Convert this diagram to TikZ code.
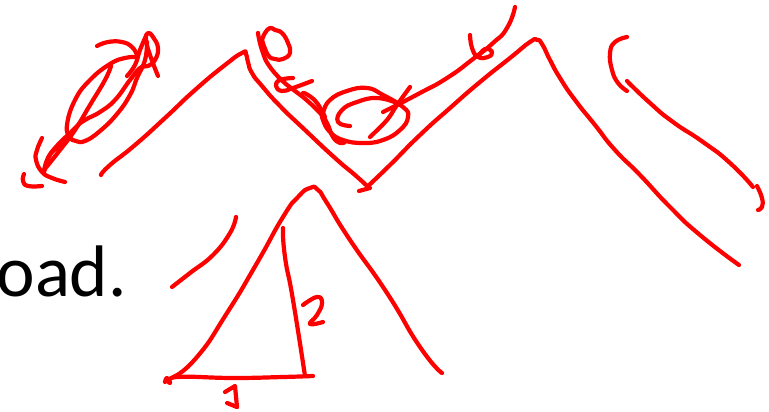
\documentclass[tikz,border=0pt]{standalone}
\usepackage{xcolor}
\usepackage{fontspec}
\setmainfont{Carlito}
\definecolor{SketchRed}{HTML}{FF0000}
\begin{document}
\begin{tikzpicture}[
  x=1pt,
  y=-1pt,
  ink/.style={draw=SketchRed, line width=4.2pt, line cap=round, line join=round}
]
\useasboundingbox (0,0) rectangle (769,412);
\fill[white] (0,0) rectangle (769,412);

\node[anchor=base east, inner sep=0pt, font=\fontsize{73pt}{73pt}\selectfont, text=black] (loadword) at (127,296) {oad.};

% scribble, left
\draw[ink] plot[smooth, tension=0.8] coordinates {(97,46) (108,42) (122,42) (132,47) (137,55)};
\draw[ink] plot[smooth, tension=0.8] coordinates {(137,57) (125,58) (110,64) (90,80) (75,100) (67,125) (70,137) (76,141) (85,141) (100,131) (117,114) (130,95) (137,78) (145,60) (147,42)};
\draw[ink] plot[smooth, tension=0.8] coordinates {(158,76) (150,55) (146,40) (148,33) (153,37) (158,48) (155,60) (148,66) (140,68) (130,80) (115,100) (100,112) (85,120) (75,128) (60,145) (50,155) (44,172)};
\draw[ink] plot[smooth, tension=0.8] coordinates {(111,66) (105,80) (90,105) (75,130) (60,150) (44,170)};
\draw[ink] plot[smooth, tension=0.8] coordinates {(44,172) (47,160) (55,148) (70,133)};
\draw[ink] plot[smooth, tension=0.8] coordinates {(127,76) (135,65) (140,50) (146,36)};
\draw[ink] plot[smooth, tension=0.8] coordinates {(42,138) (37,150) (36,160) (42,172) (52,178) (65,182)};
\draw[ink] plot[smooth, tension=0.8] coordinates {(24,174) (23,181) (28,186) (42,186)};

% top outline
\draw[ink] plot[smooth, tension=1] coordinates {(101,175) (110,165) (135,145) (165,118) (195,90) (225,65) (242,53) (246,54) (248,62) (252,73) (262,86) (280,106) (305,130) (335,158) (355,175) (367,186)};
\draw[ink] plot[smooth, tension=1] coordinates {(367,187) (390,165) (420,135) (450,108) (480,82) (510,58) (530,42) (537,40) (542,44) (550,60) (560,78) (575,100) (595,125) (615,150) (640,175) (670,207) (700,235) (739,265)};
\draw[ink] (359,191) -- (370,188);

% figure and circle
\draw[ink] plot[smooth, tension=0.8] coordinates {(258,33) (262,50) (270,67) (287,85) (303,97) (320,113) (327,123) (333,137) (340,143) (345,142)};
\draw[ink] plot[smooth, tension=0.8] coordinates {(262,40) (265,33) (270,28) (275,30) (282,33) (288,43) (290,53) (283,59) (275,59) (268,55) (262,40)};
\draw[ink] plot[smooth, tension=0.8] coordinates {(312,81) (293,88) (282,91) (276,86) (280,80) (293,78)};
\draw[ink] plot[smooth, tension=0.8] coordinates {(303,93) (308,95) (317,103) (325,117)};
\draw[ink] plot[smooth cycle, tension=0.8] coordinates {(323,113) (330,100) (347,91) (367,88) (383,95) (403,107) (408,117) (400,130) (383,140) (363,143) (343,140) (330,132) (323,120)};
\draw[ink] plot[smooth, tension=0.8] coordinates {(350,126) (338,122) (342,110) (357,102) (377,98) (397,103)};
\draw[ink] plot[smooth, tension=0.6] coordinates {(410,87) (397,105) (387,120) (370,137)};
\draw[ink] (383,112) -- (397,105);
\draw[ink] plot[smooth, tension=1] coordinates {(397,105) (420,93) (447,78) (473,59) (493,43) (507,28) (515,7)};
\draw[ink] plot[smooth, tension=0.8] coordinates {(470,35) (472,48) (478,57) (488,57) (492,52) (485,49) (478,57)};

% triangle
\draw[ink] plot[smooth, tension=1] coordinates {(173,377) (197,357) (227,313) (257,263) (283,217) (298,197) (310,188) (318,190) (327,203) (350,240) (387,293) (420,347) (442,373)};
\draw[ink] plot[smooth, tension=0.8] coordinates {(165,382) (167,378) (170,383) (177,377) (233,378) (283,377) (313,376)};
\draw[ink] plot[smooth, tension=1] coordinates {(283,228) (285,257) (293,300) (305,376)};
\draw[ink] plot[smooth, tension=0.8] coordinates {(303,305) (317,297) (322,303) (317,315) (310,324) (323,322)};
\draw[ink] (225,392) -- (235,386) -- (237,407);
\draw[ink] (227,403) -- (237,407);
\draw[ink] plot[smooth, tension=0.8] coordinates {(172,287) (190,273) (213,255) (230,233) (236,217)};

% right strokes
\draw[ink] plot[smooth, tension=0.8] coordinates {(627,37) (615,42) (610,53) (612,70) (618,83) (627,91)};
\draw[ink] plot[smooth, tension=1] coordinates {(627,81) (650,103) (673,122) (703,142) (730,163) (753,187)};
\draw[ink] plot[smooth, tension=0.8] coordinates {(757,186) (762,198) (762,207) (758,210)};
\end{tikzpicture}
\end{document}
